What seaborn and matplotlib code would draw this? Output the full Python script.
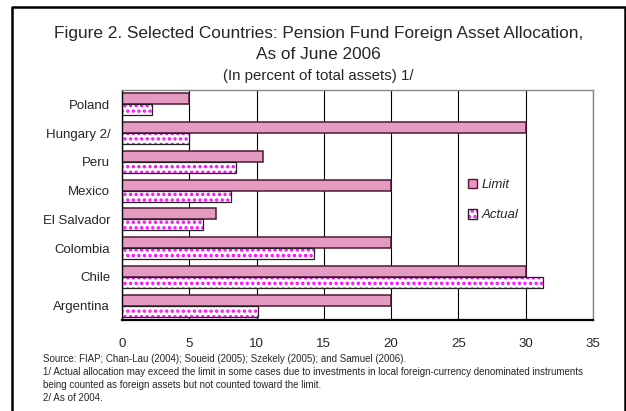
import matplotlib
matplotlib.use('Agg')
import matplotlib.pyplot as plt
import seaborn as sns
import pandas as pd
from matplotlib.patches import Patch, Rectangle
from matplotlib.lines import Line2D

# Data
countries = ['Poland', 'Hungary 2/', 'Peru', 'Mexico', 'El Salvador',
             'Colombia', 'Chile', 'Argentina']
limit = [5, 30, 10.5, 20, 7, 20, 30, 20]
actual = [2.2, 5, 8.5, 8.1, 6, 14.3, 31.3, 10.1]
series = ['Limit', 'Actual']
x_ticks = [0, 5, 10, 15, 20, 25, 30, 35]

title = 'Figure 2. Selected Countries: Pension Fund Foreign Asset Allocation,\nAs of June 2006'
subtitle = '(In percent of total assets) 1/'
notes = [
    'Source: FIAP; Chan-Lau (2004); Soueid (2005); Szekely (2005); and Samuel (2006).',
    '1/ Actual allocation may exceed the limit in some cases due to investments in local foreign-currency denominated instruments',
    'being counted as foreign assets but not counted toward the limit.',
    '2/ As of 2004.',
]

df = pd.DataFrame({
    'Country': countries * 2,
    'Value': limit + actual,
    'Series': [series[0]] * len(countries) + [series[1]] * len(countries),
})

sns.set_style('white')
plt.rcParams['font.family'] = ['Liberation Sans', 'DejaVu Sans']
plt.rcParams['hatch.linewidth'] = 1.6

pink = '#F08EC2'
dark = '#4a1a34'
magenta = '#FF00FF'

fig = plt.figure(figsize=(6.26, 4.11), dpi=100)
ax = fig.add_axes([122 / 626, 1 - 320 / 411, 471 / 626, 230 / 411])

sns.barplot(data=df, x='Value', y='Country', hue='Series', order=countries,
            hue_order=series, orient='h', width=0.76, ax=ax,
            palette=[pink, 'white'], legend=False, errorbar=None)

# style Limit bars
for bar in ax.containers[0]:
    bar.set_edgecolor(dark)
    bar.set_linewidth(1.1)

# style Actual bars: magenta dots, then a black outline on top
for bar in ax.containers[1]:
    bar.set_facecolor('white')
    bar.set_edgecolor(magenta)
    bar.set_hatch('...')
    bar.set_linewidth(0)
    ax.add_patch(Rectangle((bar.get_x(), bar.get_y()), bar.get_width(),
                           bar.get_height(), fill=False, edgecolor='#222222',
                           linewidth=0.9, zorder=bar.get_zorder() + 0.1))

ax.set_xlim(0, 35)
ax.set_ylim(len(countries) - 0.5, -0.5)
ax.set_xticks(x_ticks)
ax.set_xticklabels([str(t) for t in x_ticks], fontsize=9.5)
ax.set_yticks(range(len(countries)))
ax.set_yticklabels(countries, fontsize=9.5)
ax.set_yticks([i - 0.5 for i in range(len(countries) + 1)], minor=True)
ax.tick_params(axis='y', which='major', length=0, pad=8.5)
ax.tick_params(axis='y', which='minor', length=3, direction='in', width=0.8)
ax.tick_params(axis='x', which='major', length=3, direction='in', pad=13, width=0.8)
ax.set_xlabel('')
ax.set_ylabel('')

ax.set_axisbelow(True)
ax.xaxis.grid(True, color='black', linewidth=0.8)
ax.yaxis.grid(False)
for side in ['top', 'right']:
    ax.spines[side].set_color('#888888')
    ax.spines[side].set_linewidth(1.0)
ax.spines['left'].set_color('black')
ax.spines['left'].set_linewidth(1.0)
ax.spines['bottom'].set_color('black')
ax.spines['bottom'].set_linewidth(1.6)

limit_handle = Patch(facecolor=pink, edgecolor=dark, linewidth=1.0)
actual_handle = (Patch(facecolor='white', edgecolor=magenta, hatch='...', linewidth=0),
                 Patch(fill=False, edgecolor='#222222', linewidth=1.0))
leg = fig.legend(handles=[limit_handle, actual_handle], labels=series,
                 loc='upper left', bbox_to_anchor=(461 / 626, 1 - 172 / 411),
                 frameon=False, prop={'style': 'italic', 'size': 9.5},
                 handlelength=0.75, handleheight=0.75, handletextpad=0.3,
                 labelspacing=1.35, borderpad=0)

fig.text(318.5 / 626, 1 - 44 / 411, title, ha='center', va='center',
         fontsize=12.4, linespacing=1.5)
fig.text(318.5 / 626, 1 - 76 / 411, subtitle, ha='center', va='center',
         fontsize=10.8)

for i, line in enumerate(notes):
    fig.text(43 / 626, 1 - (359 + 13 * i) / 411, line, ha='left',
             va='center', fontsize=7.0)

# outer frame, open at the bottom
fig.add_artist(Line2D([12 / 626, 12 / 626, 625 / 626, 625 / 626],
                      [0, 1 - 7 / 411, 1 - 7 / 411, 0],
                      color='black', linewidth=1.8, transform=fig.transFigure))

fig.savefig('out.png', dpi=100)
